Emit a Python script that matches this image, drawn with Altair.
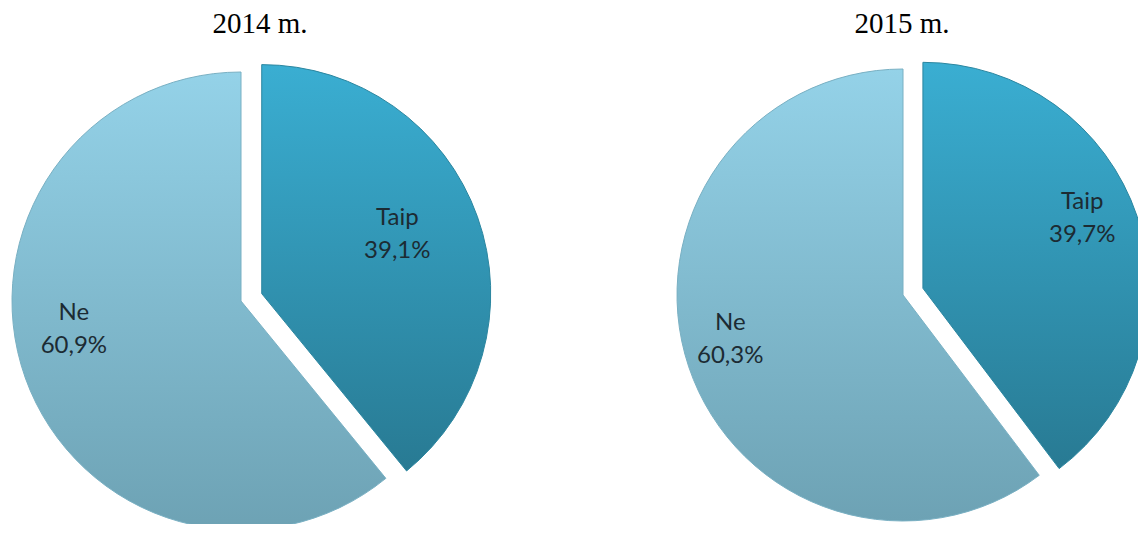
import math
import altair as alt
import pandas as pd

years = ["2014 m.", "2015 m."]
categories = ["Taip", "Ne"]
taip_pct = [39.1, 39.7]
ne_pct = [60.9, 60.3]

GRAD = {
    "Taip": {"gradient": "linear", "x1": 0, "y1": 0, "x2": 0, "y2": 1,
             "stops": [{"offset": 0, "color": "#3aaed2"}, {"offset": 1, "color": "#287a93"}]},
    "Ne": {"gradient": "linear", "x1": 0, "y1": 0, "x2": 0, "y2": 1,
           "stops": [{"offset": 0, "color": "#94d2e8"}, {"offset": 1, "color": "#6da2b4"}]},
}
STROKE = {"Taip": "#2b86a0", "Ne": "#79b0c3"}


def fmt(v):
    return f"{v:.1f}".replace(".", ",") + "%"


def panel(i, width, height, base_x, base_y, outer, explode, lab, title_dx):
    values = [taip_pct[i], ne_pct[i]]
    df = pd.DataFrame({
        "category": categories,
        "value": values,
        "order": [0, 1],
        "label": [f"{c}\n{fmt(v)}" for c, v in zip(categories, values)],
    })
    base = (
        alt.Chart(df)
        .transform_window(cum="sum(value)", sort=[alt.SortField("order")])
        .transform_calculate(start="datum.cum - datum.value",
                             mid="datum.cum - datum.value / 2")
    )
    theta_scale = alt.Scale(domain=[0, 100])
    layers = []
    texts = []
    for cat in categories:
        dx = dy = 0.0
        if cat == "Taip":
            a = 2 * math.pi * (values[0] / 2) / 100
            dx = explode * math.sin(a)
            dy = -explode * math.cos(a)
        sub = base.transform_filter(alt.datum.category == cat)
        layers.append(
            sub.mark_arc(outerRadius=outer, color=GRAD[cat], stroke=STROKE[cat],
                         strokeWidth=1, xOffset=base_x + dx, yOffset=base_y + dy,
                         clip=True)
            .encode(theta=alt.Theta("start:Q", scale=theta_scale), theta2="cum:Q")
        )
        r, ldx, ldy = lab[cat]
        texts.append(
            sub.mark_text(font="Lato", fontSize=24, color="#1c2b33", lineBreak="\n",
                          align="center", baseline="middle", lineHeight=33,
                          xOffset=base_x + dx + ldx, yOffset=base_y + dy + ldy)
            .encode(theta=alt.Theta("mid:Q", scale=theta_scale),
                    radius=alt.value(r), text="label:N")
        )
    return alt.layer(*layers, *texts).properties(
        width=width, height=height,
        title=alt.TitleParams(years[i], font="Liberation Serif", fontSize=29,
                              fontWeight="normal", color="#000000", anchor="middle",
                              dx=title_dx, offset=4),
    )


left = panel(0, 490, 481, -12, 17.5, 229, 22,
             {"Taip": (145, -1, -27), "Ne": (170, -7, -45)}, 7)
right = panel(1, 630, 481, 80, 11.5, 226, 21,
              {"Taip": (168, 0, -33), "Ne": (178, -4, -29)}, 79)

chart = (
    alt.hconcat(left, right, spacing=10)
    .properties(padding={"top": 2, "left": 0, "right": 0, "bottom": 0},
                background="white")
    .configure_view(stroke=None)
)

chart.save("out.html", embed_options={"renderer": "svg", "actions": False})
